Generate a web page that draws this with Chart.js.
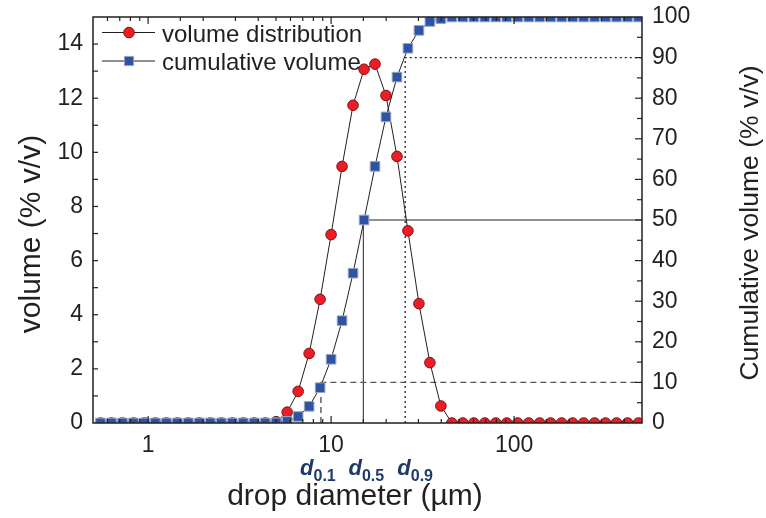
<!DOCTYPE html>
<html>
<head>
<meta charset="utf-8">
<title>drop size distribution</title>
<script src="https://cdn.jsdelivr.net/npm/chart.js@4.4.1/dist/chart.umd.min.js"></script>
<style>
  html, body { margin: 0; padding: 0; background: #fff; }
  #wrap { width: 766px; height: 518px; }
</style>
</head>
<body>
<div id="wrap"><canvas id="myChart" width="766" height="518"></canvas></div>
<script>
'use strict';

// size classes (drop diameter, µm)
let diameters = [0.5495, 0.631, 0.7244, 0.8318, 0.955, 1.096, 1.259, 1.445, 1.66, 1.905,
    2.188, 2.512, 2.884, 3.311, 3.802, 4.365, 5.012, 5.754, 6.607, 7.586,
    8.71, 10, 11.48, 13.18, 15.14, 17.38, 19.95, 22.91, 26.3, 30.2,
    34.67, 39.81, 45.71, 52.48, 60.26, 69.18, 79.43, 91.2, 104.7, 120.2,
    138, 158.5, 182, 208.9, 239.9, 275.4, 316.2, 363.1, 416.9, 478.6];

// volume distribution (% v/v), left axis
let volumeDist = [0, 0, 0, 0, 0, 0, 0, 0, 0, 0,
    0, 0, 0, 0, 0, 0, 0.05, 0.4, 1.17, 2.57,
    4.57, 6.96, 9.48, 11.74, 13.07, 13.26, 12.1, 9.85, 7.1, 4.41,
    2.23, 0.63, 0, 0, 0, 0, 0, 0, 0, 0,
    0, 0, 0, 0, 0, 0, 0, 0, 0, 0];

// cumulative volume (% v/v), right axis
let cumulVolume = [0, 0, 0, 0, 0, 0, 0, 0, 0, 0,
    0, 0, 0, 0, 0, 0, 0.05, 0.4, 1.6, 4.1,
    8.7, 15.7, 25.2, 36.9, 50.0, 63.2, 75.4, 85.2, 92.3, 96.7,
    98.9, 99.6, 100, 100, 100, 100, 100, 100, 100, 100,
    100, 100, 100, 100, 100, 100, 100, 100, 100, 100];

// d0.1 / d0.5 / d0.9 markers
let dNames = ['0.1', '0.5', '0.9'];
let dValues = [8.8, 15.0, 25.4];
let dLevels = [10, 50, 90];

let xTickLabels = [1, 10, 100];
let leftTickLabels = [0, 2, 4, 6, 8, 10, 12, 14];
let rightTickLabels = [0, 10, 20, 30, 40, 50, 60, 70, 80, 90, 100];

const FONT = "'Liberation Sans', Arial, Helvetica, sans-serif";
const INK = '#231f20';
const NAVY = '#1f3a68';

let refStyles = [
    { color: '#555555', width: 1.4, dash: [6, 4] },
    { color: '#222222', width: 1, dash: [] },
    { color: '#222222', width: 1.3, dash: [2, 3] }
];
let dLabelShift = [-3, 3, 10];

function points(ys) {
    return diameters.map(function (d, i) { return { x: d, y: ys[i] }; });
}

let datasets = [
    {
        label: 'cumulative volume',
        data: points(cumulVolume),
        yAxisID: 'y2',
        borderColor: INK,
        borderWidth: 1,
        pointStyle: 'rect',
        pointRadius: 6.8,
        pointBackgroundColor: '#2c54a3',
        pointBorderColor: '#9aa6c4',
        pointBorderWidth: 1,
        order: 0
    },
    {
        label: 'volume distribution',
        data: points(volumeDist),
        yAxisID: 'y',
        borderColor: INK,
        borderWidth: 1,
        pointStyle: 'circle',
        pointRadius: 5.3,
        pointBackgroundColor: '#ee1c25',
        pointBorderColor: '#7a1414',
        pointBorderWidth: 1,
        order: 1
    }
];

for (let i = 0; i < dValues.length; i++) {
    datasets.push({
        label: 'd' + dNames[i],
        data: [{ x: dValues[i], y: 0 }, { x: dValues[i], y: dLevels[i] }, { x: 500, y: dLevels[i] }],
        yAxisID: 'y2',
        borderColor: refStyles[i].color,
        borderWidth: refStyles[i].width,
        borderDash: refStyles[i].dash,
        pointRadius: 0,
        order: 2 + i
    });
}

function seg(ctx, x1, y1, x2, y2) {
    ctx.beginPath();
    ctx.moveTo(x1, y1);
    ctx.lineTo(x2, y2);
    ctx.stroke();
}

// no extra room for half tick labels: the frame is set by hand
function fixBox(size, key) {
    return function (s) {
        s[key] = size;
        s.paddingTop = 0;
        s.paddingBottom = 0;
        s.paddingLeft = 0;
        s.paddingRight = 0;
    };
}

let decorations = {
    id: 'decorations',
    afterDraw: function (chart) {
        let ctx = chart.ctx;
        let a = chart.chartArea;
        let sx = chart.scales.x;
        let sy = chart.scales.y;
        let sy2 = chart.scales.y2;
        ctx.save();

        // frame + inward ticks
        ctx.strokeStyle = INK;
        ctx.lineWidth = 1.5;
        ctx.strokeRect(a.left, a.top, a.right - a.left, a.bottom - a.top);
        ctx.lineWidth = 1.2;
        sx.ticks.forEach(function (t) {
            let px = sx.getPixelForValue(t.value);
            if (px < a.left + 1 || px > a.right - 1) return;
            let lg = Math.log10(t.value);
            let len = Math.abs(lg - Math.round(lg)) < 1e-6 ? 7 : 4;
            seg(ctx, px, a.bottom, px, a.bottom - len);
            seg(ctx, px, a.top, px, a.top + len);
        });
        sy.ticks.forEach(function (t) {
            let py = sy.getPixelForValue(t.value);
            if (py < a.top + 1 || py > a.bottom - 1) return;
            seg(ctx, a.left, py, a.left + 5, py);
        });
        sy2.ticks.forEach(function (t) {
            let py = sy2.getPixelForValue(t.value);
            if (py < a.top + 1 || py > a.bottom - 1) return;
            let len = t.value % 10 === 0 ? 7 : 5;
            seg(ctx, a.right, py, a.right - len, py);
        });

        // axis titles
        ctx.fillStyle = INK;
        ctx.textAlign = 'center';
        ctx.textBaseline = 'alphabetic';
        ctx.font = '30px ' + FONT;
        ctx.fillText('drop diameter (µm)', a.left + 262, a.bottom + 82);

        ctx.save();
        ctx.translate(40, a.top + 217);
        ctx.rotate(-Math.PI / 2);
        ctx.fillText('volume (% v/v)', 0, 0);
        ctx.restore();

        ctx.save();
        ctx.font = '26.5px ' + FONT;
        ctx.translate(758, a.top + 206);
        ctx.rotate(-Math.PI / 2);
        ctx.fillText('Cumulative volume (% v/v)', 0, 0);
        ctx.restore();

        // d0.1 d0.5 d0.9 labels
        ctx.fillStyle = NAVY;
        ctx.textAlign = 'left';
        for (let i = 0; i < dValues.length; i++) {
            let px = sx.getPixelForValue(dValues[i]) + dLabelShift[i];
            ctx.font = 'italic bold 22px ' + FONT;
            let wd = ctx.measureText('d').width;
            ctx.font = 'bold 16px ' + FONT;
            let ws = ctx.measureText(dNames[i]).width;
            let x0 = px - (wd + ws) / 2;
            ctx.font = 'italic bold 22px ' + FONT;
            ctx.fillText('d', x0, a.bottom + 52);
            ctx.font = 'bold 16px ' + FONT;
            ctx.fillText(dNames[i], x0 + wd, a.bottom + 58);
        }

        // legend
        let rows = [
            { ds: datasets[1], y: a.top + 15.5, base: a.top + 24.5 },
            { ds: datasets[0], y: a.top + 44, base: a.top + 53 }
        ];
        ctx.font = '24px ' + FONT;
        rows.forEach(function (r) {
            ctx.strokeStyle = INK;
            ctx.lineWidth = 1;
            seg(ctx, a.left + 9, r.y, a.left + 62, r.y);
            let mx = a.left + 36;
            ctx.fillStyle = r.ds.pointBackgroundColor;
            ctx.strokeStyle = r.ds.pointBorderColor;
            ctx.beginPath();
            if (r.ds.pointStyle === 'circle') {
                ctx.arc(mx, r.y, 5.3, 0, Math.PI * 2);
            } else {
                ctx.rect(mx - 4.6, r.y - 4.6, 9.2, 9.2);
            }
            ctx.fill();
            ctx.stroke();
            ctx.fillStyle = INK;
            ctx.fillText(r.ds.label, a.left + 69, r.base);
        });

        ctx.restore();
    }
};

let ctx = document.getElementById('myChart').getContext('2d');

let chart = new Chart(ctx, {
    type: 'line',
    data: { datasets: datasets },
    options: {
        responsive: false,
        animation: false,
        devicePixelRatio: 1,
        layout: { padding: { top: 17, left: 0, right: 0, bottom: 0 } },
        plugins: {
            legend: { display: false },
            tooltip: { enabled: false }
        },
        scales: {
            x: {
                type: 'logarithmic',
                position: 'bottom',
                min: 0.5,
                max: 500,
                grid: { display: false, drawTicks: false },
                border: { display: false },
                afterFit: fixBox(95, 'height'),
                ticks: {
                    autoSkip: false,
                    maxRotation: 0,
                    padding: 9,
                    color: INK,
                    font: { family: FONT, size: 23 },
                    callback: function (v) {
                        for (let i = 0; i < xTickLabels.length; i++) {
                            if (Math.abs(v - xTickLabels[i]) < 1e-9) return String(xTickLabels[i]);
                        }
                        return '';
                    }
                }
            },
            y: {
                type: 'linear',
                position: 'left',
                min: 0,
                max: 15,
                grid: { display: false, drawTicks: false },
                border: { display: false },
                afterFit: fixBox(93, 'width'),
                ticks: {
                    stepSize: 1,
                    autoSkip: false,
                    padding: 10,
                    color: INK,
                    font: { family: FONT, size: 23 },
                    callback: function (v) { return leftTickLabels.includes(v) ? String(v) : ''; }
                }
            },
            y2: {
                type: 'linear',
                position: 'right',
                min: 0,
                max: 100,
                grid: { display: false, drawTicks: false },
                border: { display: false },
                afterFit: fixBox(124, 'width'),
                ticks: {
                    stepSize: 5,
                    autoSkip: false,
                    padding: 10,
                    color: INK,
                    font: { family: FONT, size: 23 },
                    callback: function (v) { return rightTickLabels.includes(v) ? String(v) : ''; }
                }
            }
        }
    },
    plugins: [decorations]
});
</script>
</body>
</html>
